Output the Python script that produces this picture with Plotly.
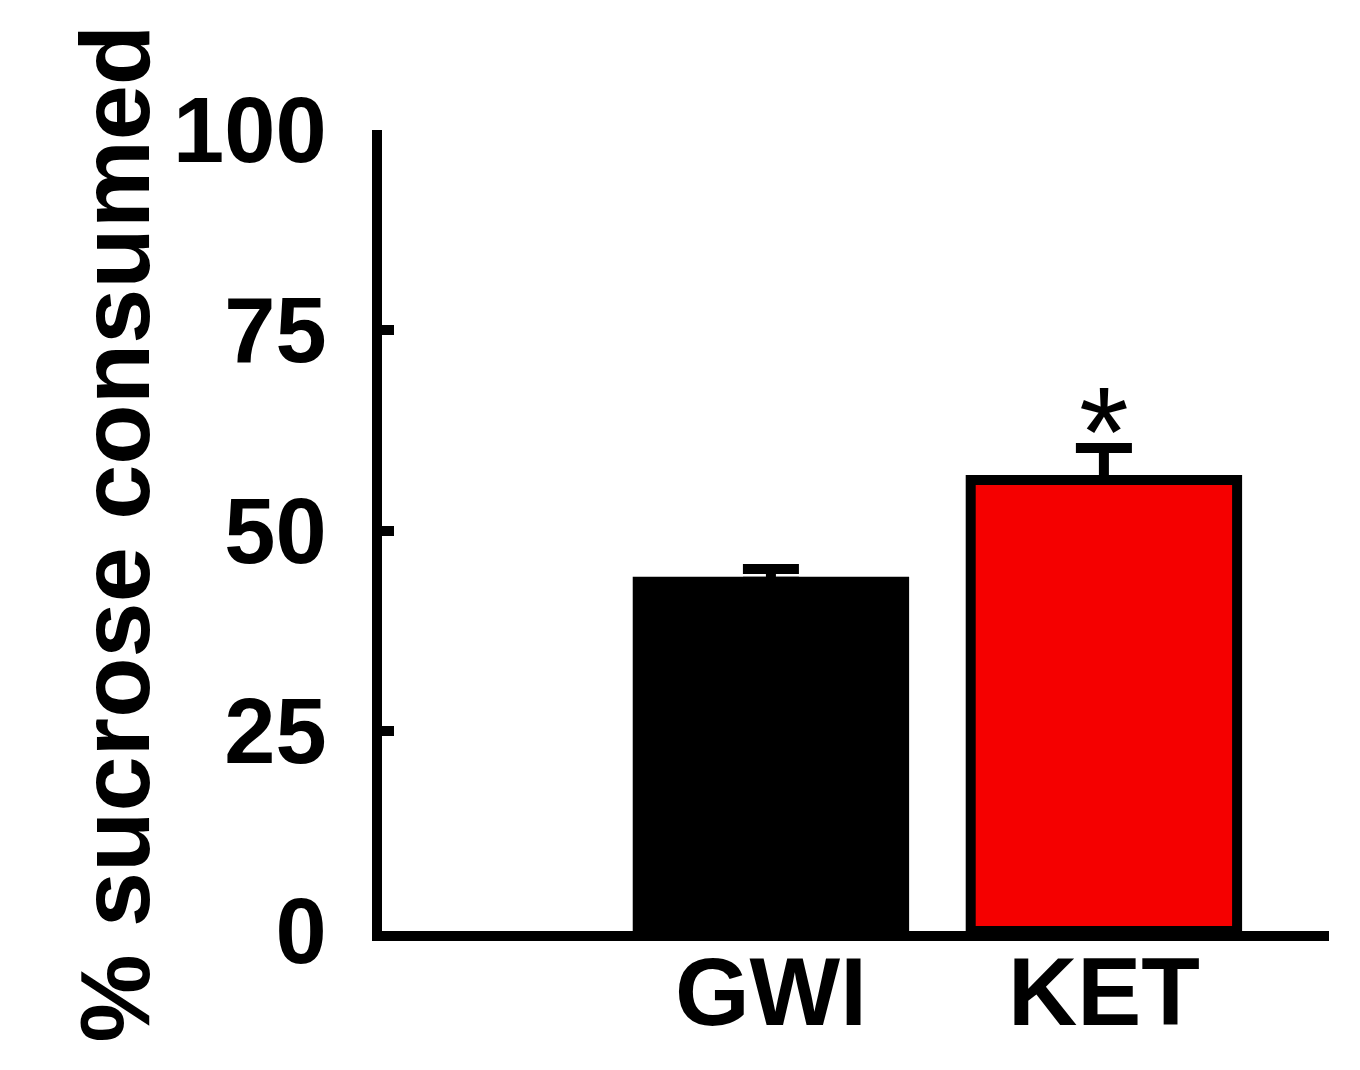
import plotly.graph_objects as go

# Sucrose preference: GWI vs KET
groups = ['GWI', 'KET']
pct_consumed = [43.6, 56.3]
sem = [1.6, 4.0]
bar_colors = ['#000000', '#F50000']
sig_marks = ['', '*']
y_ticks = [0, 25, 50, 75, 100]

fig = go.Figure()

fig.add_trace(go.Bar(
    x=groups,
    y=pct_consumed,
    width=0.80,
    marker=dict(color=bar_colors, line=dict(color='black', width=10)),
    error_y=dict(type='data', array=sem, symmetric=False, arrayminus=[0, 0],
                 color='black', thickness=10, width=28),
    showlegend=False,
))

# significance star above the error bar
for g, v, e, s in zip(groups, pct_consumed, sem, sig_marks):
    if s:
        fig.add_annotation(x=g, y=v + e, text=s, showarrow=False,
                           yanchor='middle', yshift=17,
                           font=dict(size=128, color='black', family='Liberation Sans'))

# y-axis title
fig.add_annotation(
    xref='paper', yref='paper', x=0, y=0.5, xshift=-268, yshift=-3,
    text='% sucrose consumed', textangle=-90, showarrow=False,
    xanchor='center', yanchor='middle',
    font=dict(size=99, family='Liberation Sans', weight='bold', color='black'),
)

fig.update_layout(
    width=1360,
    height=1070,
    margin=dict(l=374, r=39, t=122, b=147),
    paper_bgcolor='white',
    plot_bgcolor='white',
    font=dict(family='Liberation Sans', color='black'),
    xaxis=dict(
        type='category',
        range=[-1.168, 1.676],
        showline=True, linecolor='black', linewidth=10,
        ticks='', showgrid=False, zeroline=False,
        tickfont=dict(size=96, family='Liberation Sans', weight='bold'),
        ticklabelstandoff=-31,
        automargin=False,
    ),
    yaxis=dict(
        range=[0, 100],
        tickvals=y_ticks,
        showline=True, linecolor='black', linewidth=10,
        ticks='inside', ticklen=12, tickwidth=10, tickcolor='black',
        showgrid=False, zeroline=False,
        tickfont=dict(size=92, family='Liberation Sans', weight='bold'),
        ticklabelstandoff=27,
        automargin=False,
    ),
)

fig.write_html('out.html')
